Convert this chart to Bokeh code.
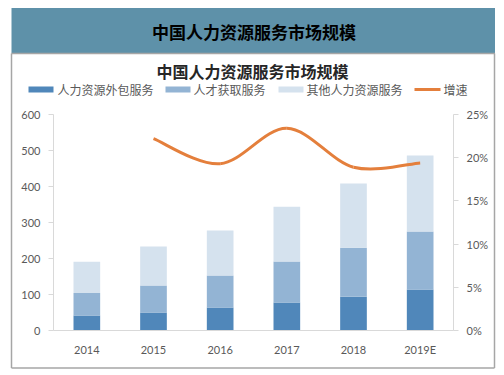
from bokeh.plotting import figure
from bokeh.models import (Range1d, LinearAxis, NumeralTickFormatter, Label,
                          FixedTicker)
from bokeh.embed import file_html
from bokeh.resources import INLINE

# ---------------- data ----------------
years = ["2014", "2015", "2016", "2017", "2018", "2019E"]
outsourcing = [42, 50, 64, 78, 94, 114]          # 人力资源外包服务
talent = [62, 75, 89, 114, 136, 161]             # 人才获取服务
other = [87, 108, 125, 152, 178, 211]            # 其他人力资源服务
growth_years = ["2015", "2016", "2017", "2018", "2019E"]
growth = [0.222, 0.193, 0.234, 0.189, 0.194]     # 增速
series_names = ["人力资源外包服务", "人才获取服务", "其他人力资源服务", "增速"]
header_title = "中国人力资源服务市场规模"
chart_title = "中国人力资源服务市场规模"
y_ticks = [0, 100, 200, 300, 400, 500, 600]
pct_ticks = [0, 0.05, 0.10, 0.15, 0.20, 0.25]

# ---------------- style ----------------
C_DARK = "#5087ba"
C_MID = "#93b4d4"
C_LIGHT = "#d5e2ee"
C_LINE = "#e47f3c"
C_HEADER = "#5e91a9"
C_BORDER = "#a6a6a6"
C_AXIS = "#d9d9d9"
TICK_COLOR = "#595959"
CJK = "Noto Sans CJK SC"
LAT = "Lato"

W, H = 504, 375
# plot-area box in page pixels
F_LEFT, F_RIGHT, F_TOP, F_BOTTOM = 53, 453, 114, 330
YMAX = y_ticks[-1]
PMAX = pct_ticks[-1]
NX = len(years)


def dx(px):
    return (px - F_LEFT) / (F_RIGHT - F_LEFT) * NX


def dy(py):
    return (F_BOTTOM - py) / (F_BOTTOM - F_TOP) * YMAX


def dp(py):
    return (F_BOTTOM - py) / (F_BOTTOM - F_TOP) * PMAX


p = figure(width=W, height=H, output_backend="svg", toolbar_location=None,
           title=None, x_axis_type=None, y_axis_type=None,
           x_range=Range1d(dx(0), dx(W)), y_range=Range1d(dy(H), dy(0)),
           min_border=0, min_border_left=0, min_border_right=0,
           min_border_top=0, min_border_bottom=0,
           background_fill_color="white", border_fill_color="white")
p.outline_line_color = None
p.extra_y_ranges = {"pct": Range1d(dp(H), dp(0))}

# ---------------- header & frame ----------------
p.quad(left=dx(11), right=dx(494.5), top=dy(7.5), bottom=dy(53),
       fill_color=C_HEADER, line_color=None)
p.segment(x0=[dx(11), dx(494), dx(11), dx(11)],
          y0=[dy(53), dy(53), dy(367.5), dy(53)],
          x1=[dx(11), dx(494), dx(494), dx(494.5)],
          y1=[dy(367.5), dy(367.5), dy(367.5), dy(53)],
          line_color=C_BORDER, line_width=1.5)

p.add_layout(Label(x=dx(253.5), y=dy(31), text=header_title, text_align="center",
                   text_baseline="middle", text_font=CJK, text_font_size="17px",
                   text_font_style="bold", text_color="#000000"))
p.add_layout(Label(x=dx(252), y=dy(70), text=chart_title, text_align="center",
                   text_baseline="middle", text_font=CJK, text_font_size="16px",
                   text_font_style="bold", text_color="#262626"))

# ---------------- bars ----------------
xs = [i + 0.5 for i in range(NX)]
t0 = outsourcing
t1 = [a + b for a, b in zip(t0, talent)]
t2 = [a + b for a, b in zip(t1, other)]
bw = 0.40
p.vbar(x=xs, bottom=0, top=t0, width=bw, fill_color=C_DARK, line_color=None)
p.vbar(x=xs, bottom=t0, top=t1, width=bw, fill_color=C_MID, line_color=None)
p.vbar(x=xs, bottom=t1, top=t2, width=bw, fill_color=C_LIGHT, line_color=None)

# ---------------- smooth growth line (Catmull-Rom -> bezier from data) ----------------
gx = [xs[years.index(y)] for y in growth_years]
n = len(gx)
x0s, y0s, x1s, y1s, cx0s, cy0s, cx1s, cy1s = ([] for _ in range(8))
for i in range(n - 1):
    pxm = gx[i - 1] if i > 0 else gx[i]
    pym = growth[i - 1] if i > 0 else growth[i]
    pxp = gx[i + 2] if i + 2 < n else gx[i + 1]
    pyp = growth[i + 2] if i + 2 < n else growth[i + 1]
    x0s.append(gx[i]); y0s.append(growth[i])
    x1s.append(gx[i + 1]); y1s.append(growth[i + 1])
    cx0s.append(gx[i] + (gx[i + 1] - pxm) / 6)
    cy0s.append(growth[i] + (growth[i + 1] - pym) / 6)
    cx1s.append(gx[i + 1] - (pxp - gx[i]) / 6)
    cy1s.append(growth[i + 1] - (pyp - growth[i]) / 6)
p.bezier(x0=x0s, y0=y0s, x1=x1s, y1=y1s, cx0=cx0s, cy0=cy0s, cx1=cx1s, cy1=cy1s,
         line_color=C_LINE, line_width=3, y_range_name="pct")

# ---------------- axes (fixed inside the canvas) ----------------
def style_axis(a):
    a.axis_line_color = C_AXIS
    a.major_tick_line_color = C_AXIS
    a.major_tick_out = 5
    a.major_tick_in = 0
    a.minor_tick_line_color = None
    a.major_label_text_font = LAT
    a.major_label_text_font_size = "11px"
    a.major_label_text_color = TICK_COLOR
    a.major_label_standoff = 8


xa = LinearAxis(fixed_location=0, bounds=(0, NX), ticker=FixedTicker(ticks=xs),
                major_label_overrides={x: y for x, y in zip(xs, years)})
style_axis(xa)
xa.major_tick_line_color = None
xa.major_label_standoff = 7
p.add_layout(xa, "below")

ya = LinearAxis(fixed_location=0, bounds=(0, YMAX), ticker=FixedTicker(ticks=y_ticks))
style_axis(ya)
p.add_layout(ya, "left")

ra = LinearAxis(y_range_name="pct", fixed_location=NX, bounds=(0, PMAX),
                ticker=FixedTicker(ticks=pct_ticks),
                formatter=NumeralTickFormatter(format="0%"))
style_axis(ra)
p.add_layout(ra, "right")

# ---------------- legend ----------------
leg = [(28, C_DARK, 57), (165, C_MID, 193), (278, C_LIGHT, 306)]
for (sx, col, tx), name in zip(leg, series_names[:3]):
    p.quad(left=dx(sx), right=dx(sx + 25), top=dy(86), bottom=dy(92),
           fill_color=col, line_color=None)
    p.add_layout(Label(x=dx(tx), y=dy(89), text=name, text_align="left",
                       text_baseline="middle", text_font=CJK, text_font_size="12px",
                       text_color=TICK_COLOR))
p.segment(x0=[dx(414)], y0=[dy(89)], x1=[dx(440)], y1=[dy(89)],
          line_color=C_LINE, line_width=3)
p.add_layout(Label(x=dx(443), y=dy(89), text=series_names[3], text_align="left",
                   text_baseline="middle", text_font=CJK, text_font_size="12px",
                   text_color=TICK_COLOR))

open("out.html", "w").write(file_html(p, INLINE))
